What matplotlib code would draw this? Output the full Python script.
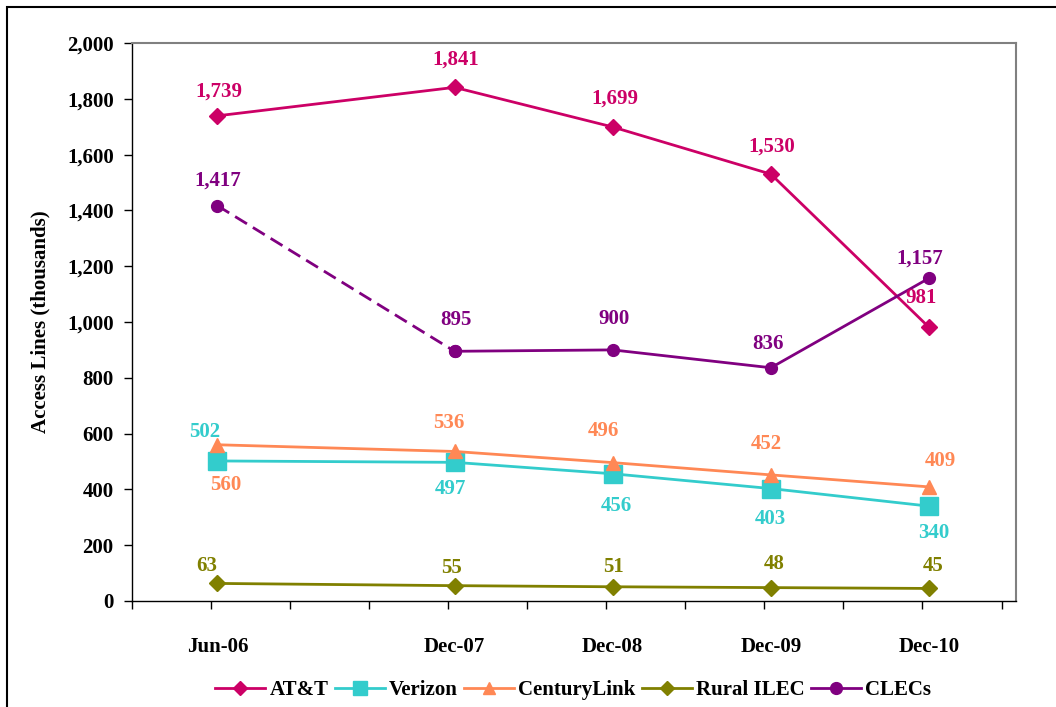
"""Access lines by carrier, Jun-06 to Dec-10."""

import matplotlib

matplotlib.use("Agg")
import matplotlib.pyplot as plt
from matplotlib.lines import Line2D
from matplotlib.patches import Rectangle
from matplotlib.ticker import FixedLocator, FuncFormatter

plt.rcParams["font.family"] = ["Liberation Serif", "DejaVu Serif"]
plt.rcParams["font.weight"] = "bold"

# data (thousands of access lines)
periods = ["Jun-06", "Dec-07", "Dec-08", "Dec-09", "Dec-10"]
period_dates = ["2006-06", "2007-12", "2008-12", "2009-12", "2010-12"]
att = [1739, 1841, 1699, 1530, 981]
verizon = [502, 497, 456, 403, 340]
centurylink = [560, 536, 496, 452, 409]
rural_ilec = [63, 55, 51, 48, 45]
clecs = [1417, 895, 900, 836, 1157]


def months_since_start(date_str, start="2006-06"):
    y, m = (int(v) for v in date_str.split("-"))
    y0, m0 = (int(v) for v in start.split("-"))
    return (y - y0) * 12 + (m - m0)


x = [months_since_start(d) for d in period_dates]

# series style + per-point label offsets (pixels)
series = [
    ("AT&T", att, "#CC0066", "D", 8.5, 7,
     [(2, 24), (1, 28), (2, 28), (1, 28), (-8, 29)]),
    ("Verizon", verizon, "#33CCCC", "s", 13.5, 9.5,
     [(-13, 29), (-4, -27), (4, -32), (0, -30), (5, -27)]),
    ("CenturyLink", centurylink, "#FF8855", "^", 10, 9,
     [(8, -40), (-6, 28), (-9, 32), (-5, 31), (11, 26)]),
    ("Rural ILEC", rural_ilec, "#808000", "D", 8.5, 7,
     [(-11, 17), (-3, 18), (1, 20), (3, 24), (4, 22)]),
    ("CLECs", clecs, "#800080", "o", 8.5, 8.5,
     [(0, 25), (1, 31), (1, 31), (-3, 24), (-9, 20)]),
]

W, H = 1056, 707
fig = plt.figure(figsize=(W / 100, H / 100), dpi=100)
fig.patch.set_facecolor("white")
left, right, top, bottom = 131.7, 1016, 43, 601
ax = fig.add_axes([left / W, 1 - bottom / H, (right - left) / W, (bottom - top) / H])

FS = 15
handles = []
for name, vals, color, marker, ms, legend_ms, offsets in series:
    if name == "CLECs":
        # first interval drawn dashed, remaining intervals solid
        ax.plot(x[:2], vals[:2], color=color, lw=2, ls=(0, (5, 2.5)),
                marker=marker, ms=ms, mec=color, zorder=3)
        ax.plot(x[1:], vals[1:], color=color, lw=2,
                marker=marker, ms=ms, mec=color, zorder=3)
    else:
        ax.plot(x, vals, color=color, lw=2, marker=marker, ms=ms,
                mec=color, zorder=3)
    for xi, v, (dx, dy) in zip(x, vals, offsets):
        ax.annotate(f"{v:,}", (xi, v), xytext=(dx, dy),
                    textcoords="offset pixels", ha="center", va="center",
                    color=color, fontsize=FS, fontweight="bold", zorder=4)
    handles.append(Line2D([], [], color=color, lw=2, marker=marker,
                          ms=legend_ms, mec=color, label=name))

ax.set_ylim(0, 2000)
ax.set_xlim(-6.5, 60.6)
ax.yaxis.set_major_locator(FixedLocator(range(0, 2001, 200)))
ax.yaxis.set_major_formatter(FuncFormatter(lambda v, _: f"{int(v):,}"))
ax.tick_params(axis="y", direction="out", length=6, width=1, pad=7,
               labelsize=FS, colors="black")

ax.set_xticks(x)
ax.set_xticklabels(periods, fontsize=FS, fontweight="bold")
ax.xaxis.set_minor_locator(FixedLocator([-6.5 + 6 * k for k in range(12)]))
ax.tick_params(axis="x", which="major", length=0, pad=26)
ax.tick_params(axis="x", which="minor", direction="out", length=6, width=1)

for lbl in ax.get_yticklabels():
    lbl.set_fontweight("bold")

ax.set_ylabel("Access Lines (thousands)", fontsize=FS, fontweight="bold",
              labelpad=12)

for side in ("top", "right"):
    ax.spines[side].set_color("#808080")
    ax.spines[side].set_linewidth(1.5)
for side in ("left", "bottom"):
    ax.spines[side].set_color("black")
    ax.spines[side].set_linewidth(1)

fig.legend(handles=handles, loc="center", bbox_to_anchor=(573 / W, 1 - 690 / H),
           ncol=5, frameon=False, handlelength=2.4,
           handletextpad=0.2, columnspacing=0.3,
           prop={"weight": "bold", "size": FS})

# outer chart border (only top and left edges fall inside the image)
fig.patches.append(Rectangle((7 / W, -0.2), 1.5, 1 - 7 / H + 0.2,
                             transform=fig.transFigure, fill=False,
                             ec="black", lw=1.5))

fig.savefig("out.png", dpi=100, facecolor="white")
